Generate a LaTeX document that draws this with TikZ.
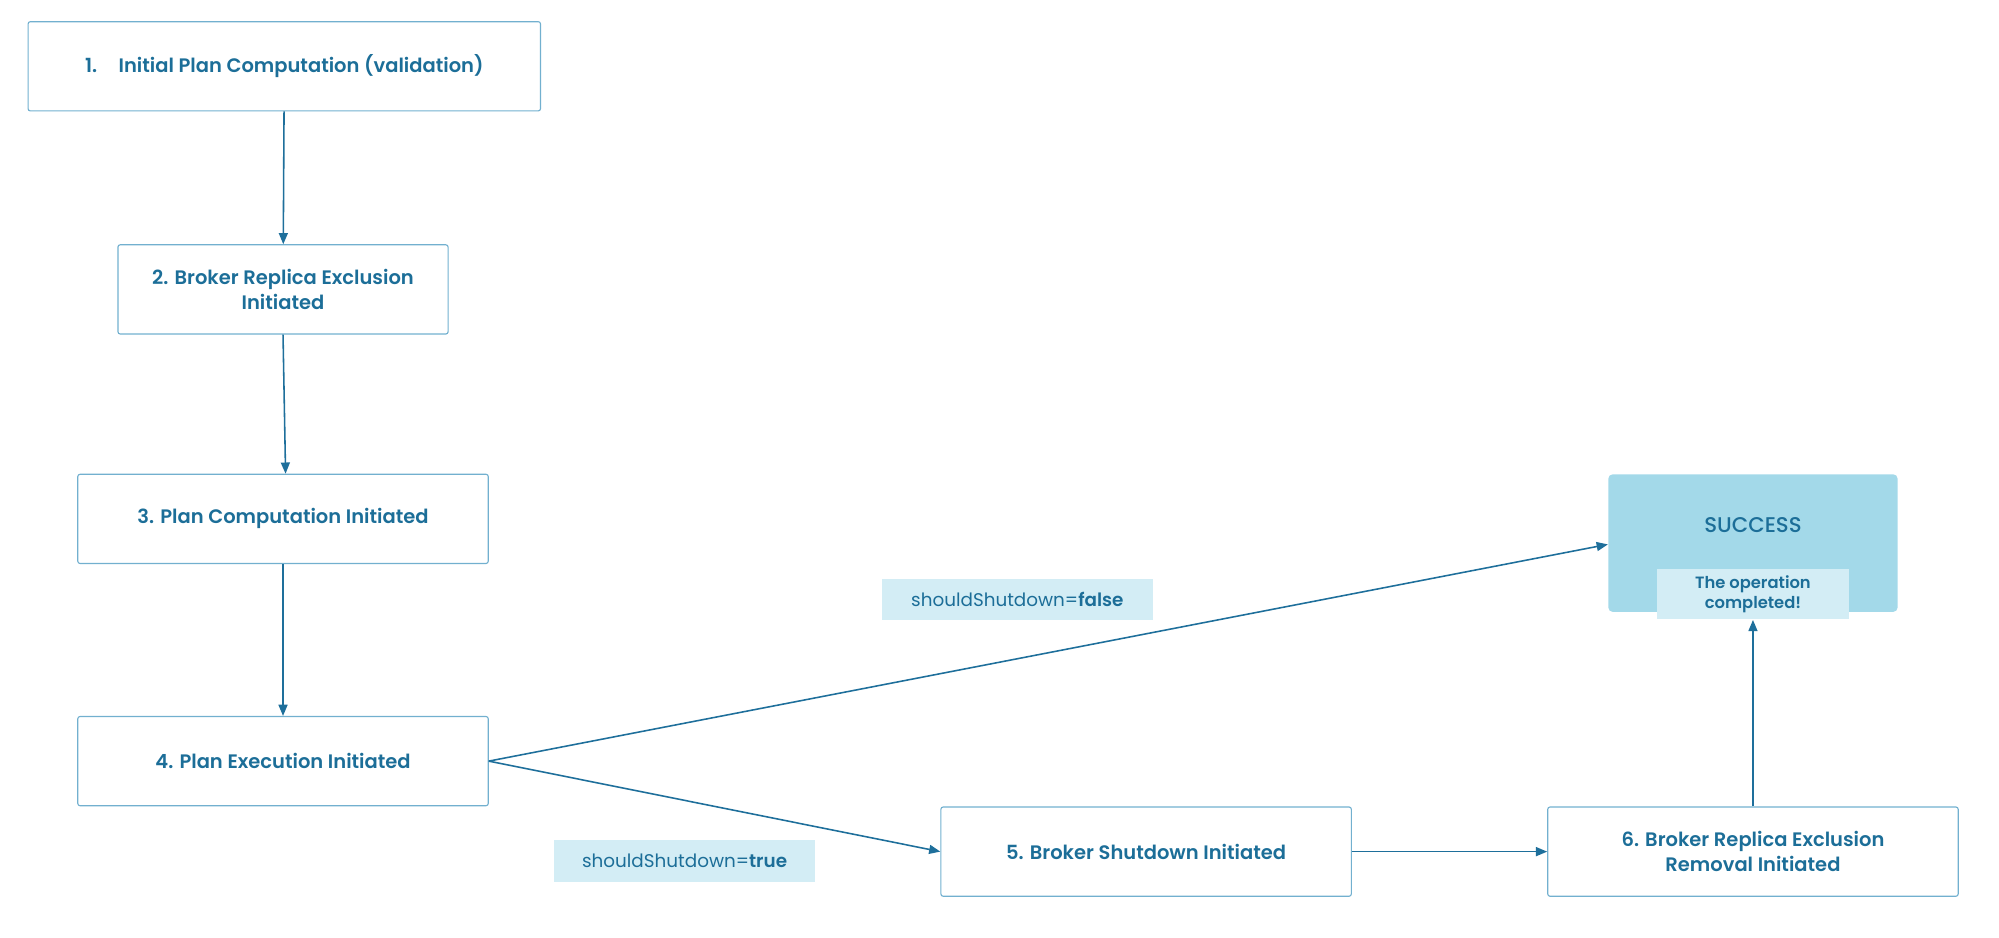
\documentclass[tikz,border=0pt]{standalone}
\usepackage{fontspec}
\setmainfont{Poppins}[BoldFont={Poppins SemiBold}]
\newfontfamily\medfont{Poppins Medium}
\usepackage{tikz}
\usetikzlibrary{arrows.meta}
\definecolor{flowtext}{HTML}{1C6E98}
\definecolor{flowline}{HTML}{1E6F9B}
\definecolor{flowborder}{HTML}{72B0CF}
\definecolor{donefill}{HTML}{A3D9E9}
\definecolor{notefill}{HTML}{D3EDF5}
\tikzset{
  flownode/.style = {align=center, inner sep=0pt, text centered, text=flowtext, font=\fontsize{8.7}{11}\selectfont\bfseries},
  stepbox/.style = {flownode, rectangle, rounded corners=1pt, draw=flowborder, line width=0.5pt, minimum height=1.4cm},
  donebox/.style = {flownode, rectangle, rounded corners=2pt, fill=donefill, minimum width=4.54cm, minimum height=2.16cm},
  notebox/.style = {flownode, rectangle, fill=notefill, inner sep=3pt},
  flowarrow/.style = {draw=flowline, line width=0.7pt, -{Triangle[length=5pt,width=4pt]}},
}

\begin{document}
\begin{tikzpicture}[x=0.02cm, y=-0.02cm]
\useasboundingbox (0,0) rectangle (1568,735);
% main column
\node [stepbox, minimum width=8.04cm] (A) at (223,52) {1.\hspace{1.1em}Initial Plan Computation (validation)};
\node [stepbox, minimum width=5.18cm] (B) at (222,227) {2. Broker Replica Exclusion\\Initiated};
\node [stepbox, minimum width=6.44cm] (C) at (222,407) {3. Plan Computation Initiated};
\node [stepbox, minimum width=6.44cm] (D) at (222,597) {4. Plan Execution Initiated};
% bottom row
\node [stepbox, minimum width=6.44cm] (E) at (899,668) {5. Broker Shutdown Initiated};
\node [stepbox, minimum width=6.44cm] (F) at (1375,668) {6. Broker Replica Exclusion\\Removal Initiated};
% end state
\node [donebox] (S) at (1375,426) {};
\node [flownode, font=\fontsize{9.5}{11}\medfont] (St) at (1375,412) {SUCCESS};
\node [notebox, minimum width=3.02cm, minimum height=0.78cm, font=\fontsize{7.3}{9}\selectfont\bfseries] (N) at (1375,466) {The operation\\completed!};
% conditions
\node [notebox, minimum width=4.26cm, minimum height=0.64cm, font=\fontsize{8.2}{10}\selectfont] (L1) at (798,470) {shouldShutdown=\textbf{false}};
\node [notebox, minimum width=4.1cm, minimum height=0.66cm, font=\fontsize{8.2}{10}\selectfont] (L2) at (537,675) {shouldShutdown=\textbf{true}};

\draw [flowarrow] (A) -- (B);
\draw [flowarrow] (B.south) -- ([xshift=0.04cm]C.north);
\draw [flowarrow] (C) -- (D);
\draw [flowarrow] (D.east) -- ([yshift=-0.02cm]S.west);
\draw [flowarrow] (D.east) -- (E.west);
\draw [flowarrow] (E) -- (F);
\draw [flowarrow] (F) -- (N);
\end{tikzpicture}
\end{document}
